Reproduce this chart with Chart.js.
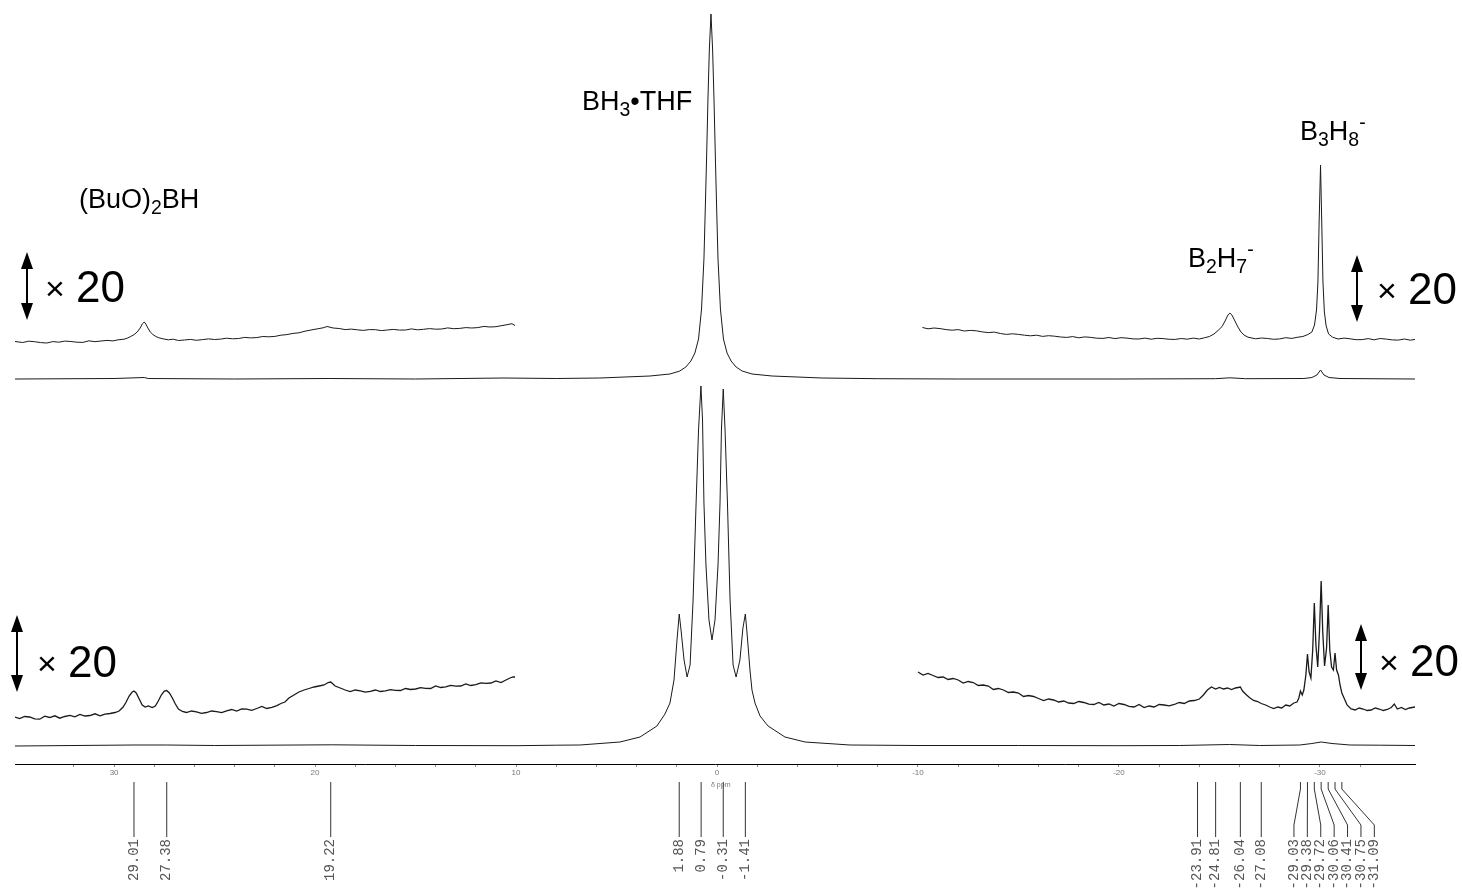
<!DOCTYPE html>
<html lang="en">
<head>
<meta charset="UTF-8">
<title>11B NMR spectrum</title>
<script src="https://cdn.jsdelivr.net/npm/chart.js"></script>
<style>
    html, body { margin: 0; padding: 0; background: #fff; }
    canvas { display: block; }
</style>
</head>
<body>
<canvas id="nmr" width="1462" height="888"></canvas>
<script>
// chemical shift (ppm) / intensity pairs
const topFull = [[34.93,0],[30,0.5],[28.5,1.5],[28.3,0.5],[24,0],[19.3,0.5],[15,0],[10.6,1],[8,0.5],
    [5.83,1],[3.34,3],[2.34,5],[1.85,8],[1.55,12],[1.30,18],[1.10,26],[0.92,40],[0.77,70],[0.65,120],
    [0.59,165],[0.52,220],[0.45,280],[0.38,330],[0.30,365],[0.22,330],[0.15,280],[0.08,220],[0.01,165],
    [-0.05,120],[-0.17,70],[-0.32,40],[-0.50,26],[-0.70,18],[-0.95,12],[-1.25,8],[-1.74,5],[-2.74,3],
    [-5.23,1],[-8,0.3],[-12,0],[-20,0],[-24.8,0.3],[-25.52,1.2],[-26.3,0.3],[-29.2,0.5],[-29.6,1.5],
    [-29.85,4],[-30.03,9],[-30.2,4],[-30.45,1.5],[-31,0.5],[-34.73,0]];

const topZoomLeft = [[34.93,0.5],[34.55,-0.5],[34.25,0.8],[33.95,0.3],[33.65,-0.6],[33.35,-1.0],[33.05,0.4],
    [32.75,-0.2],[32.45,0.9],[32.15,0.5],[31.85,-0.2],[31.55,-0.4],[31.25,1.2],[30.95,0.3],[30.65,1.0],
    [30.35,1.6],[30.05,1.1],[29.8,2.2],[29.5,2.8],[29.35,3.8],[29.2,5.2],[29.0,7.5],[28.85,10],[28.7,14],
    [28.6,18],[28.5,20],[28.42,18],[28.32,14],[28.2,10],[28.07,7.5],[27.92,5.5],[27.77,4.2],[27.57,3.2],
    [27.3,2.2],[27.05,2.8],[26.8,1.5],[26.5,2.0],[26.2,2.6],[25.9,1.7],[25.6,2.4],[25.3,3.1],[25.0,2.5],
    [24.7,2.9],[24.4,3.8],[24.1,3.2],[23.8,3.5],[23.5,4.6],[23.2,4.1],[22.9,4.4],[22.6,5.5],[22.3,5.2],
    [22.0,5.6],[21.7,6.8],[21.4,7.4],[21.1,8.6],[20.8,9.2],[20.5,10.8],[20.2,12.0],[19.9,13.1],[19.6,14.2],
    [19.4,15.5],[19.1,14.0],[18.8,13.5],[18.5,12.4],[18.2,12.9],[17.9,12.2],[17.6,11.6],[17.3,12.4],
    [17.0,12.3],[16.7,11.4],[16.4,12.0],[16.1,12.6],[15.8,11.9],[15.5,12.0],[15.2,13.1],[14.9,12.2],
    [14.6,12.7],[14.3,13.4],[14.0,12.8],[13.7,13.0],[13.4,14.1],[13.1,13.3],[12.8,13.6],[12.5,14.4],
    [12.2,14.0],[11.9,14.4],[11.6,15.6],[11.3,15.0],[11.0,15.3],[10.7,16.4],[10.4,17.5],[10.2,18.3],[10.05,16.5]];

const topZoomRight = [[-10.22,14.5],[-10.5,13.2],[-10.8,14.0],[-11.1,13.4],[-11.4,12.4],[-11.7,11.8],[-12.0,12.4],
    [-12.3,11.0],[-12.6,11.6],[-12.9,11.2],[-13.2,10.1],[-13.5,9.4],[-13.8,9.9],[-14.1,8.5],[-14.4,7.6],
    [-14.7,8.2],[-15.0,7.6],[-15.3,6.8],[-15.6,6.2],[-15.9,6.8],[-16.2,5.6],[-16.5,6.3],[-16.8,5.8],
    [-17.1,5.0],[-17.4,4.6],[-17.7,5.4],[-18.0,4.2],[-18.3,5.1],[-18.6,4.6],[-18.9,3.8],[-19.2,3.6],
    [-19.5,4.5],[-19.8,3.4],[-20.1,4.3],[-20.4,3.9],[-20.7,3.1],[-21.0,3.0],[-21.3,3.9],[-21.6,2.8],
    [-21.9,3.7],[-22.2,3.4],[-22.5,2.7],[-22.8,2.6],[-23.1,3.5],[-23.4,2.8],[-23.7,3.9],[-24.0,3.0],
    [-24.25,4.2],[-24.5,5.5],[-24.73,8],[-24.93,11.5],[-25.13,15.5],[-25.28,21],[-25.42,27],[-25.52,29],
    [-25.62,27],[-25.77,21],[-25.92,15],[-26.07,10],[-26.22,7],[-26.42,4.8],[-26.8,3.2],[-27.1,4.0],
    [-27.4,3.5],[-27.7,2.7],[-28.0,3.1],[-28.3,4.3],[-28.6,3.6],[-28.9,4.8],[-29.15,5.5],[-29.4,7.5],
    [-29.6,10],[-29.73,17],[-29.83,32],[-29.9,60],[-29.96,120],[-30.03,177],[-30.09,120],[-30.15,60],
    [-30.22,30],[-30.31,16],[-30.43,8],[-30.63,4.8],[-30.9,3.0],[-31.2,3.9],[-31.5,3.2],[-31.8,2.3],
    [-32.1,2.4],[-32.4,3.4],[-32.7,2.2],[-33.0,3.5],[-33.3,2.9],[-33.6,2.1],[-33.9,1.9],[-34.2,3.0],
    [-34.5,1.8],[-34.73,2.6]];

const bottomFull = [[34.93,0],[29.01,1],[27.38,1],[25,0.5],[19.2,1.2],[15,0.5],[10,0.3],[8,0.8],
    [6.82,1],[4.83,4],[3.83,9],[2.99,20],[2.59,32],[2.34,43],[2.14,66],[1.99,106],[1.88,132],[1.79,116],
    [1.64,86],[1.49,69],[1.34,81],[1.19,146],[1.04,243],[0.92,316],[0.80,360],[0.72,326],[0.65,243],
    [0.55,181],[0.40,126],[0.25,106],[0.10,126],[-0.05,181],[-0.15,243],[-0.22,316],[-0.31,357],
    [-0.40,316],[-0.52,243],[-0.65,146],[-0.80,81],[-0.95,69],[-1.14,86],[-1.29,118],[-1.41,132],
    [-1.49,114],[-1.64,76],[-1.74,56],[-1.89,43],[-2.14,30],[-2.54,20],[-3.38,9],[-4.38,4],[-6.62,1],
    [-10,0.5],[-15,0.5],[-20,0.3],[-23,0.5],[-25.5,1.5],[-27,0.5],[-29,1],[-29.6,2.5],[-30.06,4],
    [-30.6,2.5],[-31.5,1],[-33,0.8],[-34.73,0.5]];

const bottomZoomLeft = [[34.93,3],[34.7,1.5],[34.45,3.5],[34.2,3],[33.95,1.2],[33.7,0.8],[33.45,3.8],[33.2,2.5],
    [32.95,4.2],[32.7,1.8],[32.45,3.5],[32.2,4.6],[31.95,3.2],[31.7,5.5],[31.45,4],[31.2,4.5],[30.95,6.2],
    [30.7,4.2],[30.45,5.8],[30.2,6.5],[29.95,7.5],[29.75,9],[29.55,13],[29.4,18],[29.25,24],[29.1,28],
    [29.01,29],[28.9,27],[28.75,21],[28.6,15],[28.45,13],[28.3,14],[28.1,12.5],[27.95,14],[27.8,19],
    [27.65,25],[27.5,29],[27.38,29.5],[27.25,27],[27.1,22],[26.95,16],[26.8,11],[26.6,8.5],[26.4,7.5],
    [26.15,9],[25.9,8.2],[25.65,6.6],[25.4,7.5],[25.15,9],[24.9,8.4],[24.65,7.4],[24.4,9.2],[24.15,10.5],
    [23.9,9],[23.65,11],[23.4,10.8],[23.15,9.6],[22.9,11.5],[22.65,13.5],[22.4,11.5],[22.15,12.6],[21.9,14.4],
    [21.7,16.5],[21.5,18],[21.3,22],[21.05,25],[20.8,28],[20.55,30],[20.3,31.5],[20.05,33],[19.8,34],
    [19.55,35],[19.35,37.5],[19.22,38],[19.0,34],[18.75,32],[18.5,30],[18.25,28.5],[18.0,30],[17.75,29.2],
    [17.5,27.8],[17.25,28.6],[17.0,30],[16.75,28.5],[16.5,29.2],[16.25,30.4],[16.0,29.6],[15.75,29.5],
    [15.5,31.5],[15.25,30.5],[15.0,31],[14.75,32.4],[14.5,31.6],[14.25,31.5],[14.0,34],[13.75,32.5],
    [13.5,33.2],[13.25,34.6],[13.0,33.8],[12.75,34],[12.5,36],[12.25,34.5],[12.0,35.4],[11.75,37.2],[11.5,36.6],
    [11.25,37],[11.0,39],[10.75,37.5],[10.5,40],[10.3,42],[10.15,43],[10.05,43]];

const bottomZoomRight = [[-10.0,48],[-10.25,45],[-10.5,46.5],[-10.75,44.5],[-11.0,42.5],[-11.25,43],[-11.5,40.5],
    [-11.75,41.5],[-12.0,40],[-12.25,37],[-12.5,38.5],[-12.75,37.5],[-13.0,34.5],[-13.25,35],[-13.5,34],
    [-13.75,30.5],[-14.0,31.5],[-14.25,30],[-14.5,27.5],[-14.75,28],[-15.0,27],[-15.25,23.5],[-15.5,24.5],
    [-15.75,23.5],[-16.0,21.5],[-16.25,19.5],[-16.5,21],[-16.75,20],[-17.0,18],[-17.25,19],[-17.5,17],
    [-17.75,16.5],[-18.0,18.5],[-18.25,17.5],[-18.5,15.8],[-18.75,15.5],[-19.0,17.5],[-19.25,15],[-19.5,16],
    [-19.75,14],[-20.0,16.5],[-20.25,15.5],[-20.5,13.6],[-20.75,13],[-21.0,15.5],[-21.25,12.5],[-21.5,14],
    [-21.75,13],[-22.0,15.5],[-22.25,15],[-22.5,14.2],[-22.75,15.5],[-23.0,17.5],[-23.25,16.5],[-23.5,19],
    [-23.75,19.5],[-24.0,21],[-24.2,25],[-24.4,30],[-24.6,33],[-24.81,31],[-25.0,32.5],[-25.2,31],
    [-25.4,32],[-25.6,30.5],[-25.8,32],[-26.04,33],[-26.15,29],[-26.35,25],[-26.52,22],[-26.7,19.5],
    [-26.9,18.5],[-27.08,16.5],[-27.3,15],[-27.5,13],[-27.7,11.5],[-27.9,13],[-28.1,12],[-28.3,15],
    [-28.5,14],[-28.7,17],[-28.86,18],[-28.95,22],[-29.03,29],[-29.12,25],[-29.2,30],[-29.3,45],
    [-29.38,66],[-29.46,48],[-29.55,42],[-29.64,70],[-29.72,117],[-29.8,75],[-29.89,53],[-29.98,90],
    [-30.06,139],[-30.14,88],[-30.23,54],[-30.33,72],[-30.41,115],[-30.49,70],[-30.58,53],[-30.67,50],
    [-30.75,67],[-30.83,50],[-30.92,45],[-31.0,35],[-31.09,27],[-31.2,22],[-31.35,15],[-31.55,11],
    [-31.75,10],[-31.95,12],[-32.15,11],[-32.35,9.5],[-32.55,10],[-32.75,12],[-32.95,11],[-33.15,9.5],
    [-33.35,10.5],[-33.55,12.5],[-33.7,16],[-33.85,11],[-34.05,12.5],[-34.25,10.5],[-34.45,12],[-34.73,13]];

// peak picking values shown under the axis
const peakPicks = [29.01, 27.38, 19.22, 1.88, 0.79, -0.31, -1.41, -23.91, -24.81, -26.04, -27.08,
    -29.03, -29.38, -29.72, -30.06, -30.41, -30.75, -31.09];

const axisMin = -34.73, axisMax = 34.93;
const majorStep = 10, minorStep = 2;

// vertical placement of each trace (baseline height above the axis, px units)
const AXIS_Y = 764;
const base = { topFull: 385, topZoom: 422, bottomFull: 18, bottomZoom: 44 };

function toXY(arr, offset) {
    return arr.map(p => ({ x: p[0], y: p[1] + offset }));
}

function trace(arr, offset, width) {
    return {
        data: toXY(arr, offset),
        borderColor: '#1a1a1a',
        borderWidth: width || 1,
        pointRadius: 0,
        tension: 0,
        fill: false
    };
}

const SANS = "'Liberation Sans', Arial, sans-serif";

// text pieces: [text, 0 normal | 1 subscript | 2 superscript]
function chemText(ctx, parts, x, y, size) {
    let cx = x;
    parts.forEach(([t, kind]) => {
        let fs = kind ? size * 0.72 : size;
        let dy = kind === 1 ? size * 0.24 : kind === 2 ? -size * 0.42 : 0;
        ctx.font = fs + 'px ' + SANS;
        ctx.fillText(t, cx, y + dy);
        cx += ctx.measureText(t).width;
    });
}

function dblArrow(ctx, x, y1, y2) {
    const hw = 6, hl = 17;
    ctx.beginPath();
    ctx.moveTo(x, y1); ctx.lineTo(x - hw, y1 + hl); ctx.lineTo(x + hw, y1 + hl); ctx.closePath();
    ctx.moveTo(x, y2); ctx.lineTo(x - hw, y2 - hl); ctx.lineTo(x + hw, y2 - hl); ctx.closePath();
    ctx.fill();
    ctx.fillRect(x - 1, y1 + hl - 1, 2, y2 - y1 - 2 * hl + 2);
}

function times20(ctx, x, y) {
    ctx.font = '34px ' + SANS;
    ctx.fillText('\u00D7', x, y - 2);
    ctx.font = '44px ' + SANS;
    ctx.fillText('20', x + 31, y);
}

const annotations = {
    id: 'annotations',
    afterDraw(chart) {
        const ctx = chart.ctx;
        const xs = chart.scales.x;
        ctx.save();
        ctx.fillStyle = '#000';
        ctx.textAlign = 'left';
        ctx.textBaseline = 'alphabetic';

        chemText(ctx, [['BH', 0], ['3', 1], ['\u2022THF', 0]], 582, 110, 27);
        chemText(ctx, [['(BuO)', 0], ['2', 1], ['BH', 0]], 79, 208, 27);
        chemText(ctx, [['B', 0], ['3', 1], ['H', 0], ['8', 1], ['-', 2]], 1300, 140, 27);
        chemText(ctx, [['B', 0], ['2', 1], ['H', 0], ['7', 1], ['-', 2]], 1188, 267, 27);

        dblArrow(ctx, 27, 252, 320);
        times20(ctx, 45, 302);
        dblArrow(ctx, 17, 615, 692);
        times20(ctx, 37, 677);
        dblArrow(ctx, 1357, 255, 322);
        times20(ctx, 1377, 304);
        dblArrow(ctx, 1361, 624, 690);
        times20(ctx, 1379, 676);

        // axis unit
        ctx.fillStyle = '#777';
        ctx.font = '7px ' + SANS;
        ctx.textAlign = 'left';
        ctx.fillText('\u03B4 ppm', xs.getPixelForValue(0) - 6, 787);

        // peak picking lines and labels
        const spacing = 13.4, clusterShift = 6.5;
        const picks = peakPicks.map(v => ({ v, px: xs.getPixelForValue(v) })).sort((a, b) => a.px - b.px);
        let prev = -Infinity;
        picks.forEach(p => {
            p.lx = Math.max(p.px, prev + spacing);
            prev = p.lx;
        });
        // pull displaced groups back a little so they straddle their peaks
        for (let i = 0; i < picks.length; i++) {
            if (i + 1 < picks.length && picks[i + 1].lx > picks[i + 1].px + 0.5 && picks[i].lx === picks[i].px) {
                let j = i;
                while (j < picks.length && (j === i || picks[j].lx > picks[j].px + 0.5)) {
                    picks[j].lx -= clusterShift;
                    j++;
                }
                i = j - 1;
            }
        }
        ctx.strokeStyle = '#333';
        ctx.lineWidth = 1;
        ctx.fillStyle = '#555';
        ctx.font = "14px 'Liberation Mono', 'DejaVu Sans Mono', monospace";
        picks.forEach(p => {
            ctx.beginPath();
            ctx.moveTo(p.px, 782);
            ctx.lineTo(p.px, 789);
            ctx.lineTo(p.lx, 825);
            ctx.lineTo(p.lx, 837);
            ctx.stroke();
            ctx.save();
            ctx.translate(p.lx, 839);
            ctx.rotate(-Math.PI / 2);
            ctx.textAlign = 'right';
            ctx.textBaseline = 'middle';
            ctx.fillText(p.v.toFixed(2), 0, 0);
            ctx.restore();
        });
        ctx.restore();
    }
};

new Chart(document.getElementById('nmr').getContext('2d'), {
    type: 'line',
    data: {
        datasets: [
            trace(topFull, base.topFull),
            trace(topZoomLeft, base.topZoom),
            trace(topZoomRight, base.topZoom),
            trace(bottomFull, base.bottomFull),
            trace(bottomZoomLeft, base.bottomZoom, 1.3),
            trace(bottomZoomRight, base.bottomZoom, 1.3)
        ]
    },
    options: {
        responsive: false,
        animation: false,
        layout: { padding: { left: 15, right: 47, top: 0, bottom: 0 } },
        plugins: { legend: { display: false }, tooltip: { enabled: false } },
        scales: {
            x: {
                type: 'linear',
                reverse: true,
                min: axisMin,
                max: axisMax,
                afterFit(scale) { scale.height = 888 - AXIS_Y; },
                afterBuildTicks(scale) {
                    scale.ticks = scale.ticks.filter(t => Math.abs(t.value / minorStep - Math.round(t.value / minorStep)) < 1e-6);
                },
                border: { display: true, color: '#000', width: 1 },
                grid: { drawOnChartArea: false, drawTicks: true, tickLength: 3, color: '#888' },
                ticks: {
                    stepSize: minorStep,
                    autoSkip: false,
                    maxRotation: 0,
                    padding: 1,
                    color: '#777',
                    font: { size: 8, family: SANS },
                    callback: v => (Math.round(v) % majorStep === 0 ? String(Math.round(v)) : '')
                }
            },
            y: { display: false, min: 0, max: AXIS_Y }
        }
    },
    plugins: [annotations]
});
</script>
</body>
</html>
